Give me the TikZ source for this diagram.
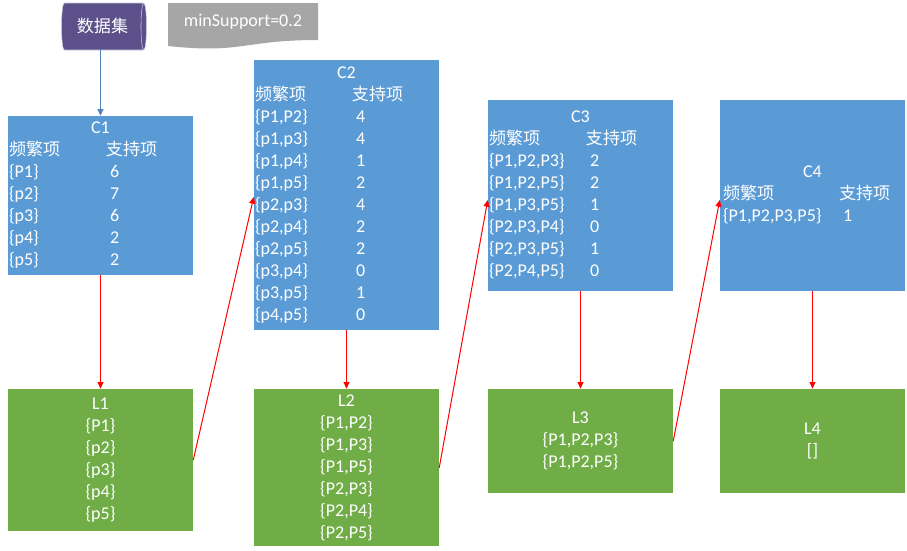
\documentclass[tikz,border=0pt]{standalone}
\usepackage{fontspec}
\setmainfont{Carlito}
\newfontfamily\cjk[Scale=0.95]{Noto Sans CJK SC}
\usepackage{array}
\usepackage{xcolor}
\usepackage{tikz}
\usetikzlibrary{arrows.meta}
\usetikzlibrary{shapes.geometric}

\definecolor{cblue}{RGB}{91,155,213}
\definecolor{lgreen}{RGB}{112,173,71}
\definecolor{dpurple}{RGB}{92,80,138}
\definecolor{sgray}{RGB}{166,166,166}
\definecolor{lineblue}{RGB}{79,129,189}

\begin{document}
\begin{tikzpicture}[x=0.75pt, y=-0.75pt, >={Triangle[length=5pt,width=4.5pt]},
    line cap=round, line join=round,
    box/.style={rectangle, inner sep=0pt, text=white, minimum width=138.75pt,
        font=\fontsize{13.5}{16.5}\selectfont},
    cbox/.style={box, fill=cblue},
    lbox/.style={box, fill=lgreen, align=center},
    flow/.style={->, red, line width=0.75pt}]

    \useasboundingbox (0,0) rectangle (907,550);

    % input data and threshold
    \node[cylinder, draw=white!70!dpurple, fill=dpurple, aspect=0.35, inner sep=0pt,
        minimum width=35.25pt, minimum height=63.75pt, text=white,
        font=\fontsize{13.5}{16.5}\selectfont] (data) at (102.5,26.5) {\cjk 数据集};

    \fill[sgray] (168,3) -- (318,3) -- (318,40) .. controls (243,40) and (243,54) .. (168,46) -- cycle;
    \node[text=white, font=\fontsize{13.5}{16.5}\selectfont] (minsup) at (243,22) {minSupport=0.2};

    % candidate sets
    \node[cbox, minimum height=119.25pt] (C1) at (100.5,195.5) {%
        \begin{tabular}{@{\hspace{0.75pt}}p{72.75pt}@{}p{65.25pt}@{}}
        \multicolumn{2}{c}{C1}\\
        {\cjk 频繁项} & {\cjk 支持项}\\
        \{P1\} & ~6\\
        \{p2\} & ~7\\
        \{p3\} & ~6\\
        \{p4\} & ~2\\
        \{p5\} & ~2
        \end{tabular}};

    \node[cbox, minimum height=202.5pt] (C2) at (346.5,195) {%
        \begin{tabular}{@{\hspace{0.75pt}}p{72.75pt}@{}p{65.25pt}@{}}
        \multicolumn{2}{c}{C2}\\
        {\cjk 频繁项} & {\cjk 支持项}\\
        \{P1,P2\} & ~4\\
        \{p1,p3\} & ~4\\
        \{p1,p4\} & ~1\\
        \{p1,p5\} & ~2\\
        \{p2,p3\} & ~4\\
        \{p2,p4\} & ~2\\
        \{p2,p5\} & ~2\\
        \{p3,p4\} & ~0\\
        \{p3,p5\} & ~1\\
        \{p4,p5\} & ~0
        \end{tabular}};

    \node[cbox, minimum height=143.25pt] (C3) at (580.5,195.5) {%
        \begin{tabular}{@{\hspace{0.75pt}}p{72.75pt}@{}p{65.25pt}@{}}
        \multicolumn{2}{c}{C3}\\
        {\cjk 频繁项} & {\cjk 支持项}\\
        \{P1,P2,P3\} & ~2\\
        \{P1,P2,P5\} & ~2\\
        \{P1,P3,P5\} & ~1\\
        \{P2,P3,P4\} & ~0\\
        \{P2,P3,P5\} & ~1\\
        \{P2,P4,P5\} & ~0
        \end{tabular}};

    \node[cbox, minimum height=143.25pt] (C4) at (812.5,195.5) {%
        \begin{tabular}{@{\hspace{2.25pt}}p{87pt}@{}p{49.5pt}@{}}
        \multicolumn{2}{c}{C4}\\
        {\cjk 频繁项} & {\cjk 支持项}\\
        \{P1,P2,P3,P5\} & ~1
        \end{tabular}};

    % frequent sets
    \node[lbox, minimum height=106.5pt] (L1) at (100.5,460)
        {L1\\\{P1\}\\\{p2\}\\\{p3\}\\\{p4\}\\\{p5\}};
    \node[lbox, minimum height=117.75pt] (L2) at (346.5,467.5)
        {L2\\\{P1,P2\}\\\{P1,P3\}\\\{P1,P5\}\\\{P2,P3\}\\\{P2,P4\}\\\{P2,P5\}};
    \node[lbox, minimum height=78pt] (L3) at (580.5,441)
        {L3\\\{P1,P2,P3\}\\\{P1,P2,P5\}};
    \node[lbox, minimum height=78pt] (L4) at (812.5,441) {L4\\{[]}};

    % connectors
    \draw[->, lineblue, line width=0.75pt] (data.south -| C1.north) -- (C1.north);

    \draw[flow] (C1.south) -- (L1.north);
    \draw[flow] (C2.south) -- (L2.north);
    \draw[flow] (C3.south) -- (L3.north);
    \draw[flow] (C4.south) -- (L4.north);

    \draw[flow] (L1.east) -- ([yshift=-1.5pt]C2.west);
    \draw[flow] (L2.east) -- ([yshift=-3.4pt]C3.west);
    \draw[flow] (L3.east) -- ([yshift=-3.4pt]C4.west);

\end{tikzpicture}
\end{document}
